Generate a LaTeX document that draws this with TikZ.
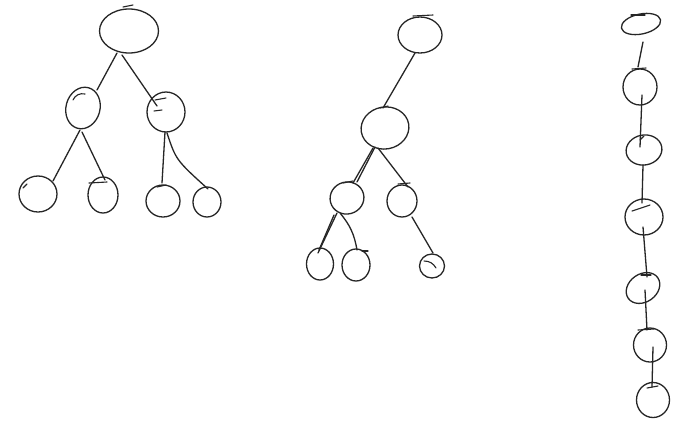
\documentclass[tikz,border=0pt]{standalone}
\usetikzlibrary{shapes.geometric,calc}
\begin{document}
\begin{tikzpicture}[x=1pt,y=-1pt,
  pen/.style={line width=1.3pt,line cap=round,line join=round,draw=black!85},
  blob/.style={pen,ellipse,inner sep=0pt},
  edge/.style={pen},
  tick/.style={pen,line width=1.1pt}]
\useasboundingbox[fill=white] (0,0) rectangle (690,421);
% ---------- tree 1 ----------
\node[blob,minimum width=59pt,minimum height=44pt] (r1) at (129,31) {};
\node[blob,minimum width=34pt,minimum height=42pt,rotate=-15] (a1) at (83,108) {};
\node[blob,minimum width=38pt,minimum height=40pt] (b1) at (166,112) {};
\node[blob,minimum width=38pt,minimum height=36pt] (c1) at (38,194) {};
\node[blob,minimum width=30pt,minimum height=36pt] (d1) at (103,195) {};
\node[blob,minimum width=34pt,minimum height=32pt] (e1) at (163,201) {};
\node[blob,minimum width=28pt,minimum height=30pt] (f1) at (207,202) {};
\draw[edge] ($(r1)+(-12,22)$) -- ($(a1)+(14,-18)$);
\draw[edge] ($(r1)+(-7,24)$) -- ($(b1)+(-9,-6)$);
\draw[edge] ($(a1)+(-3,22)$) -- ($(c1)+(15,-13)$);
\draw[edge] ($(a1)+(-1,24)$) -- ($(d1)+(2,-15)$);
\draw[edge] ($(b1)+(-1,20)$) -- ($(e1)+(-1,-18)$);
\draw[edge] ($(b1)+(1,21)$) .. controls ($(b1)+(10,48)$) .. ($(f1)+(1,-13)$);
% pen ticks
\draw[tick] ($(r1)+(-6,-24)$) -- ($(r1)+(4,-26)$);
\draw[tick] ($(a1)+(-10,-8)$) to[bend left=40] ($(a1)+(2,-14)$);
\draw[tick] ($(b1)+(-11,-12)$) -- ($(b1)+(0,-14)$);
\draw[tick] ($(b1)+(-12,-1)$) -- ($(b1)+(-4,-2)$);
\draw[tick] ($(c1)+(-15,-6)$) -- ($(c1)+(-11,-10)$);
\draw[tick] ($(d1)+(-14,-12)$) -- ($(d1)+(4,-13)$);
\draw[tick] ($(e1)+(-6,-14)$) -- ($(e1)+(3,-16)$);
% ---------- tree 2 ----------
\node[blob,minimum width=44pt,minimum height=36pt] (r2) at (420,35) {};
\node[blob,minimum width=48pt,minimum height=42pt,rotate=10] (m2) at (385,128) {};
\node[blob,minimum width=34pt,minimum height=32pt,rotate=15] (p2) at (347,198) {};
\node[blob,minimum width=30pt,minimum height=32pt] (q2) at (402,201) {};
\node[blob,minimum width=27pt,minimum height=32pt] (s2) at (320,264) {};
\node[blob,minimum width=28pt,minimum height=32pt] (t2) at (356,265) {};
\node[blob,minimum width=25pt,minimum height=24pt] (u2) at (432,266) {};
\draw[edge] ($(r2)+(-5,18)$) -- ($(m2)+(-2,-20)$);
\draw[edge] ($(m2)+(-10,19)$) -- ($(p2)+(10,-16)$);
\draw[edge] ($(m2)+(-12,20)$) -- ($(p2)+(6,-15)$);
\draw[edge] ($(m2)+(-7,20)$) -- ($(q2)+(6,-14)$);
\draw[edge] ($(p2)+(-10,15)$) -- ($(s2)+(-2,-11)$);
\draw[edge] ($(p2)+(-13,17)$) -- ($(s2)+(-1,-14)$);
\draw[edge] ($(p2)+(-7,15)$) to[bend left=15] ($(t2)+(1,-15)$);
\draw[edge] ($(q2)+(10,16)$) -- ($(u2)+(1,-13)$);
\draw[tick] ($(r2)+(-7,-19)$) -- ($(r2)+(13,-20)$);
\draw[tick] ($(m2)+(-5,-20)$) -- ($(m2)+(3,-22)$);
\draw[tick] ($(p2)+(-4,-15)$) -- ($(p2)+(6,-17)$);
\draw[tick] ($(q2)+(-4,-17)$) -- ($(q2)+(8,-18)$);
\draw[tick] ($(t2)+(6,-14)$) -- ($(t2)+(12,-14)$);
\draw[tick] ($(u2)+(-8,-5)$) to[bend left=30] ($(u2)+(4,2)$);
% ---------- tree 3 ----------
\node[blob,minimum width=40pt,minimum height=20pt,rotate=12] (n1) at (641,24) {};
\node[blob,minimum width=34pt,minimum height=36pt] (n2) at (640,87) {};
\node[blob,minimum width=36pt,minimum height=30pt,rotate=10] (n3) at (644,150) {};
\node[blob,minimum width=38pt,minimum height=36pt] (n4) at (644,217) {};
\node[blob,minimum width=36pt,minimum height=28pt,rotate=35] (n5) at (643,288) {};
\node[blob,minimum width=33pt,minimum height=34pt] (n6) at (650,345) {};
\node[blob,minimum width=33pt,minimum height=35pt] (n7) at (653,400) {};
\draw[edge] ($(n1)+(2,18)$) -- ($(n2)+(-2,-20)$);
\draw[edge] ($(n2)+(2,8)$) -- ($(n3)+(-4,-3)$);
\draw[edge] ($(n3)+(-1,15)$) -- ($(n4)+(-2,-14)$);
\draw[edge] ($(n4)+(-1,10)$) -- ($(n5)+(4,-11)$);
\draw[edge] ($(n5)+(2,2)$) -- ($(n6)+(-3,-15)$);
\draw[edge] ($(n6)+(3,2)$) -- ($(n7)+(-1,-13)$);
\draw[tick] ($(n1)+(-10,-9)$) -- ($(n1)+(4,-9)$);
\draw[tick] ($(n2)+(-8,-18)$) -- ($(n2)+(6,-19)$);
\draw[tick] ($(n3)+(-4,-10)$) -- ($(n3)+(0,-14)$);
\draw[tick] ($(n4)+(-12,-6)$) -- ($(n4)+(6,-12)$);
\draw[tick] ($(n5)+(-2,-13)$) -- ($(n5)+(8,-13)$);
\draw[tick] ($(n6)+(-12,-15)$) -- ($(n6)+(4,-16)$);
\draw[tick] ($(n7)+(-6,-12)$) -- ($(n7)+(5,-14)$);
\end{tikzpicture}
\end{document}
